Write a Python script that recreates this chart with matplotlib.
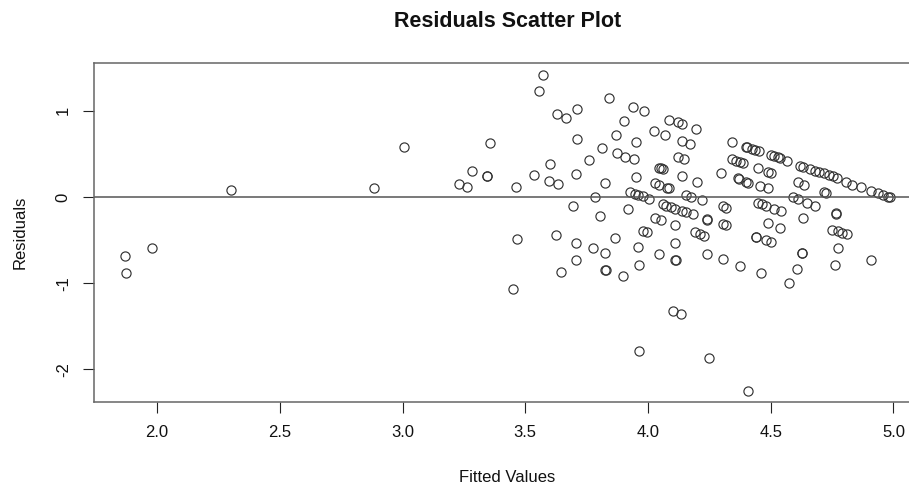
import numpy as np
import matplotlib
matplotlib.use("Agg")
import matplotlib.pyplot as plt

plt.rcParams['font.family'] = ['Liberation Sans', 'DejaVu Sans']

# fitted values and residuals
fitted = [
    1.868, 1.873, 1.978, 2.302, 2.885, 3.007, 3.573, 3.556, 3.628, 3.666,
    3.711, 3.711, 3.358, 3.283, 3.232, 3.264, 3.344, 3.346, 3.464, 3.534,
    3.602, 3.595, 3.635, 3.706, 3.693, 3.465, 3.625, 3.708, 3.706, 3.644,
    3.449, 3.840, 3.937, 3.985, 3.902, 3.870, 3.953, 3.813, 3.758, 3.875,
    3.907, 3.941, 3.825, 3.953, 3.783, 3.806, 3.920, 3.927, 3.945, 3.961,
    3.978, 4.005, 4.023, 4.071, 4.087, 4.121, 4.138, 4.196, 4.139, 4.170,
    4.122, 4.148, 4.043, 4.053, 4.063, 4.137, 4.199, 4.030, 4.043, 4.077,
    4.087, 4.154, 4.174, 4.218, 4.297, 4.344, 4.399, 4.342, 4.358, 4.373,
    4.389, 4.365, 4.372, 4.399, 4.060, 4.073, 4.094, 4.111, 4.137, 4.154,
    4.182, 4.239, 4.241, 4.304, 4.318, 4.304, 4.318, 4.030, 4.053, 4.111,
    3.978, 3.994, 4.191, 4.213, 4.229, 3.865, 3.775, 3.826, 3.826, 3.828,
    3.899, 3.959, 3.962, 3.965, 4.046, 4.111, 4.111, 4.113, 4.103, 4.134,
    4.250, 4.240, 4.304, 4.373, 4.407, 4.402, 4.423, 4.437, 4.453, 4.501,
    4.514, 4.528, 4.537, 4.566, 4.450, 4.487, 4.503, 4.620, 4.630, 4.661,
    4.681, 4.698, 4.718, 4.736, 4.755, 4.768, 4.806, 4.833, 4.867, 4.908,
    4.935, 4.956, 4.976, 4.986, 4.409, 4.457, 4.487, 4.609, 4.636, 4.718,
    4.727, 4.589, 4.609, 4.648, 4.681, 4.450, 4.466, 4.480, 4.514, 4.541,
    4.765, 4.767, 4.487, 4.537, 4.630, 4.751, 4.772, 4.790, 4.812, 4.439,
    4.441, 4.480, 4.501, 4.462, 4.575, 4.605, 4.626, 4.628, 4.763, 4.772,
    4.908,
]
residuals = [
    -0.684, -0.880, -0.595, 0.085, 0.100, 0.577, 1.415, 1.230, 0.960, 0.920,
    1.020, 0.670, 0.630, 0.300, 0.150, 0.120, 0.240, 0.245, 0.120, 0.250,
    0.380, 0.190, 0.150, 0.270, -0.110, -0.490, -0.440, -0.530, -0.730, -0.870,
    -1.070, 1.145, 1.040, 1.000, 0.880, 0.715, 0.635, 0.570, 0.430, 0.510,
    0.470, 0.445, 0.160, 0.230, 0.000, -0.220, -0.140, 0.055, 0.035, 0.023,
    0.012, -0.027, 0.765, 0.715, 0.890, 0.867, 0.850, 0.785, 0.650, 0.610,
    0.460, 0.440, 0.340, 0.333, 0.325, 0.240, 0.180, 0.160, 0.140, 0.108,
    0.104, 0.023, 0.004, -0.035, 0.280, 0.640, 0.580, 0.440, 0.420, 0.410,
    0.395, 0.217, 0.212, 0.178, -0.080, -0.100, -0.120, -0.136, -0.160, -0.174,
    -0.197, -0.260, -0.262, -0.110, -0.130, -0.310, -0.330, -0.240, -0.270, -0.330,
    -0.390, -0.410, -0.410, -0.430, -0.450, -0.470, -0.595, -0.645, -0.850, -0.852,
    -0.920, -0.580, -0.785, -1.790, -0.665, -0.530, -0.730, -0.732, -1.326, -1.357,
    -1.870, -0.660, -0.720, -0.800, -2.250, 0.577, 0.553, 0.545, 0.533, 0.487,
    0.476, 0.460, 0.449, 0.421, 0.333, 0.294, 0.275, 0.360, 0.352, 0.321,
    0.300, 0.290, 0.275, 0.255, 0.240, 0.224, 0.174, 0.139, 0.112, 0.070,
    0.043, 0.023, 0.003, -0.004, 0.166, 0.128, 0.100, 0.170, 0.139, 0.062,
    0.050, 0.003, -0.027, -0.073, -0.100, -0.073, -0.085, -0.100, -0.140, -0.162,
    -0.190, -0.192, -0.305, -0.356, -0.244, -0.383, -0.400, -0.414, -0.430, -0.460,
    -0.462, -0.500, -0.520, -0.885, -1.000, -0.830, -0.645, -0.647, -0.790, -0.595,
    -0.730,
]
x_ticks = [2.0, 2.5, 3.0, 3.5, 4.0, 4.5, 5.0]
y_ticks = [-2, -1, 0, 1]

fig = plt.figure(figsize=(9.09, 4.92), dpi=100)
ax = fig.add_axes([0.1034, 0.1835, 0.9095, 0.689])

ax.plot(fitted, residuals, 'o', markersize=6.6, markerfacecolor='none',
        markeredgecolor='#333333', markeredgewidth=0.85)
ax.axhline(0, color='#555555', linewidth=1.1)

ax.set_xlim(1.743, 5.111)
ax.set_ylim(-2.375, 1.558)
ax.set_xticks(x_ticks)
ax.set_xticklabels([f"{t:.1f}" for t in x_ticks])
ax.set_yticks(y_ticks)
ax.set_yticklabels([str(t) for t in y_ticks], rotation=90, va='center')

ax.tick_params(direction='out', length=7.7, width=0.8, color='#222222',
               labelsize=12, labelcolor='#111111')
ax.tick_params(axis='x', pad=9)
ax.tick_params(axis='y', pad=9)
for s in ax.spines.values():
    s.set_color('#666666')
    s.set_linewidth(1.1)

ax.set_xlabel("Fitted Values", fontsize=12, color='#111111', labelpad=22)
ax.set_ylabel("Residuals", fontsize=12, color='#111111', labelpad=20)
ax.set_title("Residuals Scatter Plot", fontsize=15.5, fontweight='bold',
             color='#111111', pad=26)

fig.savefig("out.png", dpi=100)
